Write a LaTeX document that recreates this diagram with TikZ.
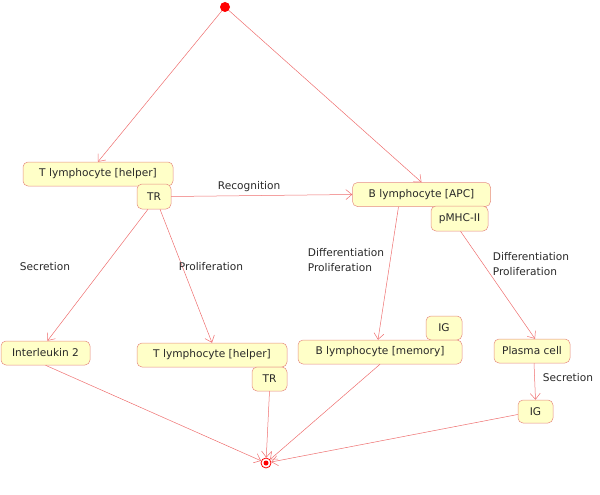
\documentclass[tikz,border=0pt]{standalone}
\usepackage{fontspec}
\setmainfont{DejaVu Sans}
\usetikzlibrary{arrows.meta,calc}
\definecolor{boxfill}{RGB}{255,255,200}
\definecolor{boxline}{RGB}{230,140,130}
\definecolor{linkred}{RGB}{238,110,110}
\definecolor{txt}{RGB}{40,40,40}
\tikzset{
  box/.style={draw=boxline, fill=boxfill, rounded corners=5pt, line width=0.5pt,
    inner sep=0pt, font=\fontsize{10.6}{12}\selectfont, text=txt},
  link/.style={draw=linkred, line width=0.5pt, -{Straight Barb[length=6pt,width=10pt]}},
  lbl/.style={font=\fontsize{10.6}{15.5}\selectfont, text=txt, align=left},
}
\begin{document}
\begin{tikzpicture}[x=1pt,y=-1pt]
\useasboundingbox (0,0) rectangle (600,495);
% start
\node[circle, fill=red, minimum size=10pt, inner sep=0pt] (start) at (225,7) {};
% boxes
\node[box, minimum width=150pt, minimum height=24pt] (t1) at (98,174) {T lymphocyte [helper]};
\node[box, minimum width=34pt, minimum height=25pt] (tr1) at (154,196.5) {TR};
\node[box, minimum width=138pt, minimum height=24pt] (bapc) at (421.5,194.5) {B lymphocyte [APC]};
\node[box, minimum width=57pt, minimum height=25pt] (pmhc) at (459.5,218.5) {pMHC-II};
\node[box, minimum width=89pt, minimum height=24pt] (il) at (45.5,353) {Interleukin 2};
\node[box, minimum width=150pt, minimum height=24pt] (t2) at (212,355) {T lymphocyte [helper]};
\node[box, minimum width=35pt, minimum height=24pt] (tr2) at (269.5,379) {TR};
\node[box, minimum width=36pt, minimum height=24pt] (ig1) at (444,328) {IG};
\node[box, minimum width=164pt, minimum height=24pt] (bmem) at (380,352) {B lymphocyte [memory]};
\node[box, minimum width=76pt, minimum height=24pt] (plasma) at (532,351) {Plasma cell};
\node[box, minimum width=35pt, minimum height=23pt] (ig2) at (535.5,411.5) {IG};
% end
\node[circle, draw=red, line width=0.8pt, minimum size=10pt, inner sep=0pt] (end) at (266,463) {};
\fill[red] (end.center) circle (2.5pt);
% links
\draw[link] (start) -- (t1.north);
\draw[link] (start) -- (bapc.north);
\draw[link] (tr1.east) -- node[lbl, above, pos=0.43] {Recognition} (bapc.west);
\draw[link] ($(tr1.south)+(-6,0)$) -- ($(il.north)+(2,0)$);
\draw[link] ($(tr1.south)+(6,0)$) -- (t2.north);
\draw[link] ($(bapc.south)+(-23,0)$) -- ($(bmem.north)+(-2,0)$);
\draw[link] ($(pmhc.south)+(1,0)$) -- ($(plasma.north)+(3,0)$);
\draw[link] ($(plasma.south)+(2,0)$) -- (ig2.north);
\draw[link] (il.south) -- (end);
\draw[link] (tr2.south) -- (end);
\draw[link] (bmem.south) -- (end);
\draw[link] ($(ig2.west)+(0,3)$) -- (end);
% labels
\node[lbl] (l1) at (45,267) {Secretion};
\node[lbl] (l2) at (211,267) {Proliferation};
\node[lbl] (l3) at (346,260) {Differentiation\\Proliferation};
\node[lbl] (l4) at (531,264) {Differentiation\\Proliferation};
\node[lbl] (l5) at (568,378) {Secretion};
\end{tikzpicture}
\end{document}
